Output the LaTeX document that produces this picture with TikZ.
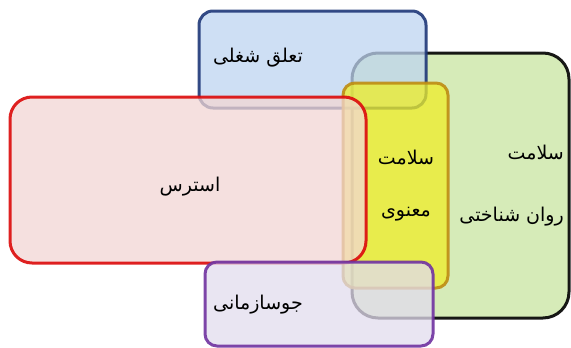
\documentclass[tikz,border=0pt]{standalone}
\usepackage{fontspec}
\newfontfamily\arabicfont[Script=Arabic]{DejaVu Sans}
\TeXXeTstate=1
\definecolor{bluefill}{RGB}{190,212,240}
\definecolor{blueline}{RGB}{31,56,120}
\definecolor{greenfill}{RGB}{200,228,160}
\definecolor{yellowfill}{RGB}{238,238,40}
\definecolor{yellowline}{RGB}{190,140,20}
\definecolor{redfill}{RGB}{242,214,212}
\definecolor{redline}{RGB}{220,10,10}
\definecolor{purplefill}{RGB}{226,220,238}
\definecolor{purpleline}{RGB}{112,50,160}
\begin{document}
\begin{tikzpicture}[
    x=1pt,y=-1pt,
    area/.style={draw,line width=3pt,inner sep=0pt,outer sep=0pt,fill opacity=.75,draw opacity=.9},
    txt/.style={font=\arabicfont\fontsize{19}{24}\selectfont,align=center,inner sep=1pt}
]
    \useasboundingbox (0,0) rectangle (571,348);
    %Boxes
    \node[area,fill=greenfill,draw=black,rounded corners=26pt,minimum width=217pt,minimum height=265pt] (green) at (460.5,185.5) {};
    \node[area,fill=bluefill,draw=blueline,rounded corners=14pt,minimum width=227pt,minimum height=97pt] (blue) at (312.5,59.5) {};
    \node[area,fill=yellowfill,draw=yellowline,rounded corners=12pt,minimum width=105pt,minimum height=205pt] (yellow) at (395.5,185.5) {};
    \node[area,fill=redfill,draw=redline,rounded corners=22pt,minimum width=356pt,minimum height=166pt] (red) at (188,180) {};
    \node[area,fill=purplefill,draw=purpleline,rounded corners=12pt,minimum width=228pt,minimum height=84pt] (purple) at (319,304) {};
    %Texts
    \node[txt] (blue-t) at (258,58) {\beginR تعلق شغلی\endR};
    \node[txt] (red-t) at (190,187) {\beginR استرس\endR};
    \node[txt] (yellow-t) at (406,186) {\beginR سلامت\endR\\[28pt]\beginR معنوی\endR};
    \node[txt,align=right,anchor=east] (green-t) at (565,186) {\beginR سلامت\endR\\[38pt]\beginR روان شناختی\endR};
    \node[txt] (purple-t) at (258,305) {\beginR جوسازمانی\endR};
\end{tikzpicture}
\end{document}
